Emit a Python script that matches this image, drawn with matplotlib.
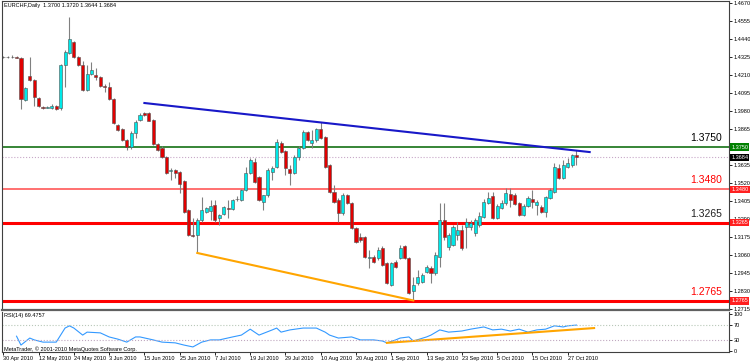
import matplotlib
matplotlib.use("Agg")
import matplotlib.pyplot as plt

plt.rcParams["font.family"] = ["Liberation Sans", "DejaVu Sans"]

# ===========================
# DATA (EURCHF daily candles)
# ===========================

opens = [1.4326, 1.4326, 1.4327, 1.4325, 1.4320, 1.4051, 1.4205, 1.4179, 1.4064, 1.4006,
         1.4003, 1.4000, 1.4013, 1.4000, 1.4275, 1.4352, 1.4422, 1.4326, 1.4275, 1.4115,
         1.4217, 1.4211, 1.4198, 1.4141, 1.4134, 1.4057, 1.3891, 1.3865, 1.3795, 1.3750,
         1.3840, 1.3923, 1.3968, 1.3968, 1.3923, 1.3769, 1.3744, 1.3686, 1.3597, 1.3603,
         1.3590, 1.3533, 1.3347, 1.3187, 1.3187, 1.3283, 1.3334, 1.3341, 1.3379, 1.3296,
         1.3321, 1.3360, 1.3353, 1.3417, 1.3411, 1.3475, 1.3584, 1.3654, 1.3558, 1.3398,
         1.3443, 1.3590, 1.3622, 1.3776, 1.3725, 1.3609, 1.3584, 1.3686, 1.3744, 1.3846,
         1.3776, 1.3795, 1.3865, 1.3814, 1.3635, 1.3462, 1.3411, 1.3328, 1.3443, 1.3392,
         1.3232, 1.3174, 1.3174, 1.3040, 1.3046, 1.3040, 1.3104, 1.3008, 1.2867, 1.3014,
         1.3040, 1.3117, 1.3040, 1.2829, 1.2880, 1.2886, 1.2950, 1.2976, 1.2944, 1.3046,
         1.3283, 1.3110, 1.3123, 1.3187, 1.3219, 1.3238, 1.3238, 1.3200, 1.3251, 1.3302,
         1.3392, 1.3437, 1.3296, 1.3360, 1.3392, 1.3449, 1.3443, 1.3392, 1.3315, 1.3373,
         1.3417, 1.3379, 1.3366, 1.3334, 1.3424, 1.3462, 1.3616, 1.3552, 1.3622, 1.3635,
         1.3699]
highs = [1.4333, 1.4333, 1.4339, 1.4333, 1.4326, 1.4134, 1.4326, 1.4185, 1.4070, 1.4013,
         1.4013, 1.4025, 1.4019, 1.4281, 1.4371, 1.4582, 1.4429, 1.4333, 1.4301, 1.4275,
         1.4294, 1.4256, 1.4205, 1.4153, 1.4166, 1.4064, 1.3897, 1.3872, 1.3801, 1.3853,
         1.3923, 1.3968, 1.3974, 1.3974, 1.3929, 1.3776, 1.3757, 1.3693, 1.3616, 1.3609,
         1.3597, 1.3539, 1.3353, 1.3296, 1.3296, 1.3430, 1.3366, 1.3411, 1.3411, 1.3321,
         1.3373, 1.3411, 1.3417, 1.3437, 1.3481, 1.3622, 1.3680, 1.3680, 1.3565, 1.3443,
         1.3616, 1.3629, 1.3801, 1.3789, 1.3731, 1.3635, 1.3699, 1.3757, 1.3859, 1.3853,
         1.3859, 1.3872, 1.3910, 1.3820, 1.3641, 1.3507, 1.3424, 1.3456, 1.3449, 1.3398,
         1.3238, 1.3200, 1.3181, 1.3091, 1.3059, 1.3110, 1.3117, 1.3014, 1.3014, 1.3027,
         1.3123, 1.3123, 1.3046, 1.2918, 1.2963, 1.2944, 1.2995, 1.2989, 1.3078, 1.3392,
         1.3392, 1.3200, 1.3251, 1.3270, 1.3251, 1.3296, 1.3283, 1.3296, 1.3334, 1.3417,
         1.3462, 1.3462, 1.3385, 1.3411, 1.3488, 1.3488, 1.3456, 1.3398, 1.3385, 1.3437,
         1.3475, 1.3411, 1.3379, 1.3437, 1.3488, 1.3648, 1.3641, 1.3667, 1.3680, 1.3705,
         1.3731]
lows = [1.4320, 1.4320, 1.4320, 1.4318, 1.3993, 1.4045, 1.4173, 1.4013, 1.4006, 1.3993,
        1.4000, 1.3993, 1.3987, 1.3987, 1.4134, 1.4345, 1.4320, 1.4269, 1.4109, 1.4109,
        1.4211, 1.4179, 1.4134, 1.4102, 1.4051, 1.3897, 1.3853, 1.3789, 1.3731, 1.3737,
        1.3808, 1.3917, 1.3949, 1.3917, 1.3763, 1.3725, 1.3680, 1.3577, 1.3539, 1.3552,
        1.3456, 1.3328, 1.3181, 1.3174, 1.3072, 1.3270, 1.3328, 1.3283, 1.3270, 1.3251,
        1.3315, 1.3296, 1.3347, 1.3405, 1.3405, 1.3469, 1.3577, 1.3520, 1.3405, 1.3347,
        1.3430, 1.3539, 1.3616, 1.3712, 1.3571, 1.3507, 1.3577, 1.3667, 1.3737, 1.3789,
        1.3744, 1.3782, 1.3801, 1.3616, 1.3456, 1.3392, 1.3270, 1.3315, 1.3385, 1.3225,
        1.3136, 1.3142, 1.3040, 1.2976, 1.3008, 1.3027, 1.2989, 1.2873, 1.2861, 1.2976,
        1.3033, 1.3033, 1.2809, 1.2768, 1.2867, 1.2880, 1.2944, 1.2880, 1.2931, 1.2982,
        1.3155, 1.3091, 1.3117, 1.3155, 1.3091, 1.3104, 1.3219, 1.3181, 1.3238, 1.3296,
        1.3385, 1.3289, 1.3289, 1.3353, 1.3379, 1.3366, 1.3379, 1.3309, 1.3309, 1.3366,
        1.3360, 1.3315, 1.3328, 1.3302, 1.3417, 1.3456, 1.3545, 1.3545, 1.3616, 1.3622,
        1.3635]
closes = [1.4326, 1.4327, 1.4325, 1.4320, 1.4057, 1.4128, 1.4179, 1.4070, 1.4013, 1.4000,
          1.4006, 1.4013, 1.3993, 1.4275, 1.4358, 1.4441, 1.4326, 1.4275, 1.4115, 1.4217,
          1.4243, 1.4198, 1.4141, 1.4134, 1.4057, 1.3904, 1.3859, 1.3795, 1.3750, 1.3840,
          1.3910, 1.3955, 1.3955, 1.3917, 1.3769, 1.3731, 1.3686, 1.3584, 1.3603, 1.3584,
          1.3513, 1.3334, 1.3187, 1.3181, 1.3283, 1.3347, 1.3360, 1.3373, 1.3283, 1.3315,
          1.3366, 1.3353, 1.3411, 1.3420, 1.3475, 1.3584, 1.3667, 1.3526, 1.3411, 1.3443,
          1.3603, 1.3616, 1.3782, 1.3718, 1.3616, 1.3584, 1.3686, 1.3744, 1.3846, 1.3795,
          1.3795, 1.3865, 1.3808, 1.3622, 1.3462, 1.3398, 1.3328, 1.3443, 1.3392, 1.3232,
          1.3142, 1.3155, 1.3046, 1.3046, 1.3014, 1.3091, 1.2995, 1.2880, 1.3008, 1.2982,
          1.3104, 1.3040, 1.2816, 1.2867, 1.2918, 1.2931, 1.2982, 1.2944, 1.3059, 1.3283,
          1.3174, 1.3187, 1.3238, 1.3219, 1.3104, 1.3270, 1.3264, 1.3283, 1.3309, 1.3398,
          1.3424, 1.3296, 1.3373, 1.3392, 1.3456, 1.3411, 1.3385, 1.3315, 1.3373, 1.3424,
          1.3398, 1.3398, 1.3334, 1.3430, 1.3475, 1.3622, 1.3552, 1.3635, 1.3648, 1.3699,
          1.3684]

date_labels = ["30 Apr 2010", "12 May 2010", "24 May 2010", "3 Jun 2010", "15 Jun 2010",
               "25 Jun 2010", "7 Jul 2010", "19 Jul 2010", "29 Jul 2010", "10 Aug 2010",
               "20 Aug 2010", "1 Sep 2010", "13 Sep 2010", "23 Sep 2010", "5 Oct 2010",
               "15 Oct 2010", "27 Oct 2010"]
date_bars = [0, 8, 16, 24, 32, 40, 48, 56, 64, 72, 80, 88, 96, 104, 112, 120, 128]

price_ticks = [1.4670, 1.4555, 1.4440, 1.4325, 1.4210, 1.4095, 1.3980, 1.3865,
               1.3635, 1.3520, 1.3405, 1.3290, 1.3175, 1.3060, 1.2945, 1.2830, 1.2715]

# horizontal levels: value, line colour, width, text colour
levels = [1.3750, 1.3480, 1.3265, 1.2765]
level_colors = ["#006400", "#ff7070", "#ff0000", "#ff0000"]
level_widths = [1.1, 1.4, 2.2, 2.2]
level_text_colors = ["#000000", "#ff0000", "#202020", "#ff0000"]
level_box_colors = ["#008000", "#ff2020", "#ff2020", "#ff2020"]
bid_price = 1.3684

# trendlines (bar index, price)
blue_x = [32, 133]
blue_y = [1.4032, 1.3718]
orange_x = [44, 93]
orange_y = [1.3072, 1.2768]

# RSI(14) read at a selection of bars
rsi_bars = [3, 4, 6, 7, 9, 12, 13, 14, 15, 16, 18, 19, 22, 24, 26, 28, 30, 31, 34, 36,
            39, 41, 43, 45, 47, 49, 52, 54, 56, 58, 61, 62, 63, 65, 68, 71, 73, 74, 76, 79,
            81, 84, 86, 87, 89, 90, 92, 93, 96, 97, 99, 101, 104, 106, 109, 111, 113, 115,
            117, 119, 121, 123, 125, 127, 128, 130]
rsi_vals = [40, 16, 35, 30, 24, 24, 43, 62, 68, 62, 43, 51, 49, 38, 32, 24, 38, 38, 30, 24,
            22, 16, 11, 24, 30, 30, 38, 43, 59, 43, 57, 62, 51, 57, 62, 62, 51, 43, 35, 38,
            30, 30, 27, 22, 30, 35, 38, 27, 38, 43, 57, 51, 54, 59, 65, 57, 59, 54,
            59, 51, 57, 59, 68, 65, 68, 70]
rsi_trend_x = [87, 134]
rsi_trend_y = [22, 62]

# ===========================
# FIGURE
# ===========================

W, H = 750, 364
fig = plt.figure(figsize=(W / 100, H / 100), dpi=100)
ax = fig.add_axes([2 / W, 1 - 310 / H, 727 / W, 309 / H])
ax2 = fig.add_axes([2 / W, 1 - 352 / H, 727 / W, 40 / H], sharex=ax)

SMALL = 4.0

# candles
for i in range(len(opens)):
    o, h, l, c = opens[i], highs[i], lows[i], closes[i]
    ax.vlines(i, l, h, color="#808080", lw=0.8, zorder=2)
    bull = c >= o
    body = max(abs(c - o), 0.00025)
    ax.bar(i, body, bottom=min(o, c), width=0.7,
           color="#00e8e8" if bull else "#e00000",
           edgecolor="#505050", linewidth=0.4, zorder=3)

# level lines
for lv, col, lw in zip(levels, level_colors, level_widths):
    ax.axhline(lv, color=col, lw=lw, zorder=1)
ax.axhline(bid_price, color="#c8a8c8", lw=0.8, ls=":", zorder=1)

# trendlines
ax.plot(blue_x, blue_y, color="#1818c8", lw=1.5, zorder=4)
ax.plot(orange_x, orange_y, color="#ffa500", lw=1.5, zorder=4)

# level texts
for lv, tc in zip(levels, level_text_colors):
    ax.annotate(f"{lv:.4f}", xy=(0.99, lv), xycoords=("axes fraction", "data"),
                xytext=(0, 3), textcoords="offset points", ha="right", va="bottom",
                fontsize=7.5, color=tc)

# price labels on the axis
for lv, bc in zip(levels, level_box_colors):
    ax.text(1.003, lv, f"{lv:.4f}", transform=ax.get_yaxis_transform(), fontsize=SMALL,
            color="white", va="center", ha="left", clip_on=False, zorder=6,
            bbox=dict(boxstyle="square,pad=0.2", fc=bc, ec="none"))
ax.text(1.003, bid_price, f"{bid_price:.4f}", transform=ax.get_yaxis_transform(),
        fontsize=SMALL, color="white", va="center", ha="left", clip_on=False, zorder=6,
        bbox=dict(boxstyle="square,pad=0.2", fc="black", ec="none"))

ax.set_xlim(-0.3, 164.6)
ax.set_ylim(1.2707, 1.4685)
ax.yaxis.tick_right()
ax.set_yticks(price_ticks)
ax.set_yticklabels([f"{t:.4f}" for t in price_ticks])
ax.tick_params(axis="y", labelsize=SMALL, length=2, pad=1.5, width=0.6)
ax.tick_params(axis="x", bottom=False, labelbottom=False)
for s in ["left", "top", "right"]:
    ax.spines[s].set_color("#404040")
    ax.spines[s].set_linewidth(0.8)
ax.spines["bottom"].set_color("#606060")
ax.spines["bottom"].set_linewidth(1.6)

# ===========================
# RSI PANEL
# ===========================

ax2.plot(rsi_bars, rsi_vals, color="#3399ff", lw=0.8)
ax2.plot(rsi_trend_x, rsi_trend_y, color="#ffa500", lw=1.5)
ax2.axhline(70, color="#b8c8b8", lw=0.8, ls=":")
ax2.axhline(30, color="#c0a8c0", lw=0.8, ls=":")
ax2.set_ylim(-2.7, 105.4)
ax2.yaxis.tick_right()
ax2.set_yticks([0, 30, 70, 100])
ax2.set_yticklabels(["0", "30", "70", "100"])
ax2.tick_params(axis="y", labelsize=SMALL, length=2, pad=1.5, width=0.6)
ax2.set_xticks(date_bars)
ax2.set_xticklabels(date_labels, ha="left")
ax2.tick_params(axis="x", labelsize=SMALL, length=2, pad=1, width=0.6)
for s in ["left", "bottom", "right"]:
    ax2.spines[s].set_color("#404040")
    ax2.spines[s].set_linewidth(0.8)
ax2.spines["top"].set_visible(False)

fig.text(4 / W, 1 - 5 / H, "EURCHF,Daily  1.3700 1.3720 1.3644 1.3684", fontsize=SMALL,
         va="center", ha="left")
fig.text(4 / W, 1 - 316 / H, "RSI(14) 69.4757", fontsize=SMALL, va="center", ha="left")
fig.text(4 / W, 1 - 349 / H, "MetaTrader, \u00a9 2001-2010 MetaQuotes Software Corp.",
         fontsize=SMALL, va="center", ha="left")

fig.savefig("out.png", dpi=100)
